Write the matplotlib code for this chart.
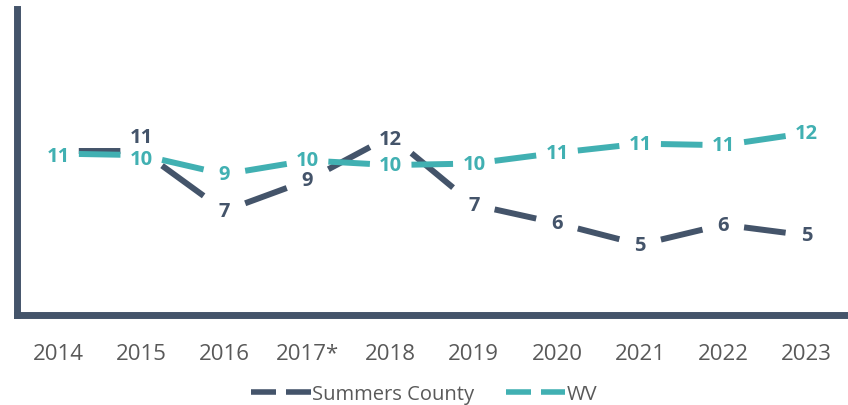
import numpy as np
import matplotlib
matplotlib.use("Agg")
import matplotlib.pyplot as plt
from matplotlib.lines import Line2D

plt.rcParams['font.family'] = ['Open Sans', 'DejaVu Sans']
plt.rcParams['lines.scale_dashes'] = False

years = ['2014', '2015', '2016', '2017*', '2018', '2019', '2020', '2021', '2022', '2023']
summers = [10.75, 10.75, 6.8, 8.8, 11.7, 7.2, 6.0, 4.6, 5.9, 5.2]
wv = [10.55, 10.45, 9.2, 10.1, 9.8, 9.9, 10.6, 11.2, 11.1, 11.9]

DARK = '#44546A'
TEAL = '#41B0B2'
GRAY = '#595959'
DPI = 100

fig = plt.figure(figsize=(8.48, 4.06), dpi=DPI)
ax = fig.add_axes([0.0195, 0.222, 0.9805, 0.753])
ax.set_xlim(-0.5, len(years) - 0.5)
ax.set_ylim(0, 20)

x = np.arange(len(years))


def draw_series(vals, color, z):
    # one dash per segment, centred between the two points
    for i in range(len(vals) - 1):
        p = ax.transData.transform([(x[i], vals[i]), (x[i + 1], vals[i + 1])])
        length = np.hypot(*(p[1] - p[0])) * 72.0 / DPI
        ax.plot(x[i:i + 2], vals[i:i + 2], color=color, lw=4.3,
                linestyle=(0.75 * length, (0.5 * length, 0.5 * length)),
                dash_capstyle='butt', zorder=z)


draw_series(summers, DARK, 2)
draw_series(wv, TEAL, 3)

# 2014 county label sits under the WV one in the original, so it is not drawn
summers_off = {1: 9.5, 4: -2}
wv_off = {0: -2, 1: -3}
for i, v in enumerate(summers):
    if i == 0:
        continue
    ax.annotate(f"{round(v)}", (x[i], v), xytext=(0, summers_off.get(i, 0)),
                textcoords='offset points', ha='center', va='center',
                fontsize=14.5, fontweight='bold', color=DARK, zorder=4)
for i, v in enumerate(wv):
    ax.annotate(f"{round(v)}", (x[i], v), xytext=(0, wv_off.get(i, 0)),
                textcoords='offset points', ha='center', va='center',
                fontsize=14.5, fontweight='bold', color=TEAL, zorder=5)

ax.set_xticks(x)
ax.set_xticklabels(years, fontsize=16, color=GRAY)
ax.set_yticks([])
ax.tick_params(axis='x', length=0, pad=20)
for s in ['top', 'right']:
    ax.spines[s].set_visible(False)
for s in ['left', 'bottom']:
    ax.spines[s].set_color(DARK)
    ax.spines[s].set_linewidth(5)

handles = [Line2D([], [], color=DARK, lw=4, linestyle=(0, (18, 7.2)), dash_capstyle='butt'),
           Line2D([], [], color=TEAL, lw=4, linestyle=(0, (18, 7.2)), dash_capstyle='butt')]
leg = fig.legend(handles, ['Summers County', 'WV'], loc='center',
                 bbox_to_anchor=(0.5, 1 - 395 / 406), ncol=2, frameon=False,
                 fontsize=14.5, handlelength=2.95, handletextpad=0.05,
                 columnspacing=1.6)
for t in leg.get_texts():
    t.set_color(GRAY)

fig.savefig('out.png', dpi=DPI)
